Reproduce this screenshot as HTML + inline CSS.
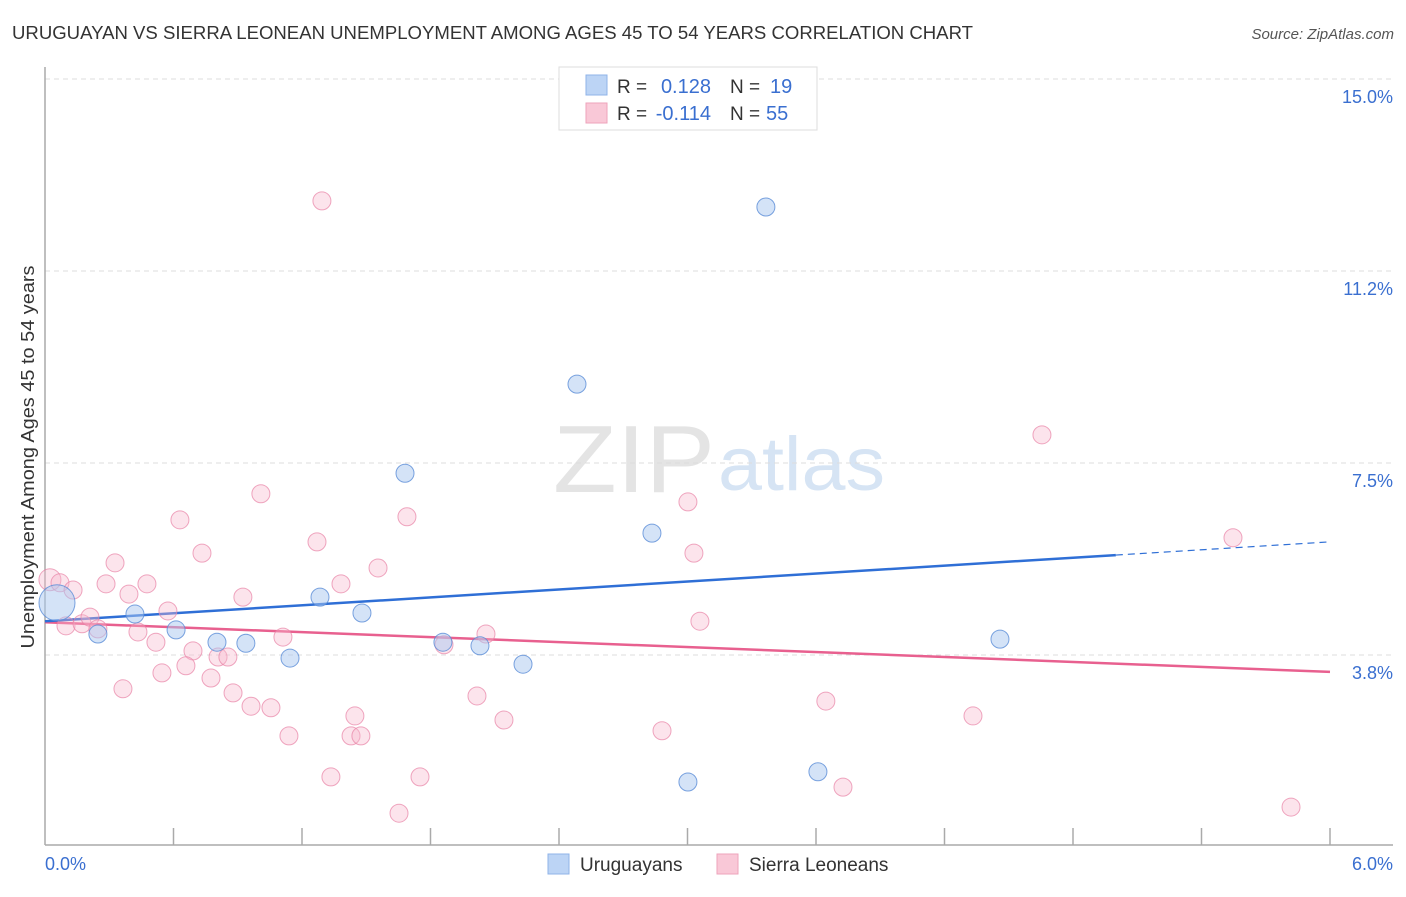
<!DOCTYPE html>
<html><head><meta charset="utf-8"><style>
body{margin:0;background:#fff;font-family:"Liberation Sans",sans-serif;}
svg text{font-family:"Liberation Sans",sans-serif;}
</style></head><body>
<svg id="chart" width="1406" height="892" xmlns="http://www.w3.org/2000/svg">
<text x="12" y="39" font-size="18" fill="#333" textLength="961" lengthAdjust="spacingAndGlyphs">URUGUAYAN VS SIERRA LEONEAN UNEMPLOYMENT AMONG AGES 45 TO 54 YEARS CORRELATION CHART</text>
<text x="1394" y="39" font-size="15" fill="#555" text-anchor="end" font-style="italic">Source: ZipAtlas.com</text>
<g>
<text x="553" y="492" font-size="96" fill="#e4e4e4" font-family="Liberation Serif,serif" textLength="162" lengthAdjust="spacingAndGlyphs">ZIP</text>
<text x="718" y="490" font-size="76" fill="#d6e4f4" textLength="167" lengthAdjust="spacingAndGlyphs">atlas</text>
</g>
<g id="grid"></g>
<g id="axes"></g>
<g id="lines"></g>
<g id="points"></g>
<text transform="translate(34,457) rotate(-90)" font-size="18" fill="#333" text-anchor="middle" textLength="383" lengthAdjust="spacingAndGlyphs">Unemployment Among Ages 45 to 54 years</text>
<text x="45" y="870" font-size="18" fill="#3a6fd0">0.0%</text>
<text x="1393" y="870" font-size="18" fill="#3a6fd0" text-anchor="end">6.0%</text>
<g>
<rect x="559" y="67" width="258" height="63" fill="#fff" stroke="#ddd"/>
<rect x="586" y="75" width="21" height="20" fill="#bcd4f5" stroke="#8fb3e8"/>
<rect x="586" y="103" width="21" height="20" fill="#f9c8d7" stroke="#eea3bb"/>
<text x="617" y="93" font-size="19" fill="#333">R =</text>
<text x="711" y="93" font-size="20" fill="#3a6fd0" text-anchor="end">0.128</text>
<text x="730" y="93" font-size="19" fill="#333">N =</text>
<text x="770" y="93" font-size="20" fill="#3a6fd0">19</text>
<text x="617" y="120" font-size="19" fill="#333">R =</text>
<text x="711" y="120" font-size="20" fill="#3a6fd0" text-anchor="end">-0.114</text>
<text x="730" y="120" font-size="19" fill="#333">N =</text>
<text x="766" y="120" font-size="20" fill="#3a6fd0">55</text>
</g>
<g>
<rect x="548" y="854" width="21" height="20" fill="#bcd4f5" stroke="#8fb3e8"/>
<text x="580" y="871" font-size="19" fill="#333">Uruguayans</text>
</g>
<g>
<rect x="717" y="854" width="21" height="20" fill="#f9c8d7" stroke="#eea3bb"/>
<text x="749" y="871" font-size="19" fill="#333">Sierra Leoneans</text>
</g>
</svg>
<script>
const yTicks=[15.0,11.25,7.5,3.75];
const yTickLabels=["15.0%","11.2%","7.5%","3.8%"];
const blueX=[0.056,0.247,0.420,0.612,0.803,0.938,1.144,1.284,1.480,1.681,1.858,2.031,2.232,2.484,2.834,3.002,3.366,3.609,4.459];
const blueY=[4.77,4.16,4.55,4.24,4.00,3.98,3.69,4.88,4.57,7.30,4.00,3.93,3.57,9.04,6.13,1.27,12.50,1.47,4.06];
const pinkX=[0.327,0.285,0.392,0.476,0.733,0.924,1.382,1.555,1.270,0.023,0.070,0.131,0.098,0.173,0.210,0.247,0.434,0.518,0.574,0.691,0.658,0.546,0.364,0.808,0.854,0.775,0.878,0.962,1.055,1.111,1.139,1.335,1.447,1.429,1.475,1.653,1.751,0.630,1.008,1.293,1.690,1.863,2.017,2.059,2.143,2.881,3.002,3.030,3.058,3.646,3.726,4.333,4.655,5.547,5.818];
const pinkY=[5.55,5.14,4.94,5.14,5.74,4.88,5.14,5.45,5.96,5.22,5.16,5.02,4.32,4.36,4.49,4.26,4.20,4.00,4.61,3.83,3.54,3.40,3.09,3.71,3.71,3.30,3.01,2.75,2.72,4.10,2.17,1.37,2.56,2.17,2.17,0.66,1.37,6.39,6.90,12.62,6.45,3.95,2.95,4.16,2.48,2.27,6.74,5.74,4.41,2.85,1.17,2.56,8.05,6.04,0.78];
const blueTrend=[4.41,5.96];
const pinkTrend=[4.39,3.42];
const NS="http://www.w3.org/2000/svg";
const X0=45,X1=1330,Y15=79,PXPER=51.2;
function sx(v){return X0+(v/6)*(X1-X0);}
function sy(v){return Y15+(15-v)*PXPER;}
function mk(tag,attrs,parent){const e=document.createElementNS(NS,tag);for(const k in attrs)e.setAttribute(k,attrs[k]);document.getElementById(parent).appendChild(e);return e;}
yTicks.forEach((t,i)=>{
 const l=mk('line',{x1:45,x2:1393,y1:sy(t),y2:sy(t),stroke:'#ddd','stroke-dasharray':'5,4'},'grid');
 
 
 const tx=mk('text',{x:1393,y:sy(t)+24,'font-size':18,fill:'#3a6fd0','text-anchor':'end'},'grid');
 tx.textContent=yTickLabels[i];
 
 
});
let ax=mk('line',{x1:45,x2:45,y1:67,y2:845,stroke:'#aaa','stroke-width':1.5},'axes');


ax=mk('line',{x1:45,x2:1393,y1:845,y2:845,stroke:'#aaa','stroke-width':1.5},'axes');


for(let k=1;k<=10;k++){
 const t=mk('line',{x1:sx(k*0.6),x2:sx(k*0.6),y1:828,y2:845,stroke:'#aaa','stroke-width':1.5},'axes');
 
 
}
function trend(vals,color,solidEnd,name){
 const f=x=>vals[0]+(vals[1]-vals[0])*x/6;
 const a=mk('line',{x1:sx(0),y1:sy(f(0)),x2:sx(solidEnd),y2:sy(f(solidEnd)),stroke:color,'stroke-width':2.5},'lines');
 
 
 if(solidEnd<6){
  const b=mk('line',{x1:sx(solidEnd),y1:sy(f(solidEnd)),x2:sx(6),y2:sy(f(6)),stroke:color,'stroke-width':1.2,'stroke-dasharray':'7,5'},'lines');
  
  
 }
}
pinkX.forEach((x,i)=>{
 const c=mk('circle',{cx:sx(x),cy:sy(pinkY[i]),r:i===9?11:9,fill:'rgba(248,185,205,0.38)',stroke:'rgba(232,130,165,0.7)','stroke-width':1},'points');
 
 
});
blueX.forEach((x,i)=>{
 const c=mk('circle',{cx:sx(x),cy:sy(blueY[i]),r:i===0?18:9,fill:'rgba(170,200,240,0.5)',stroke:'rgba(90,140,215,0.8)','stroke-width':1},'points');
 
 
});
trend(pinkTrend,'#e8608f',6,'sierra-leonean-trendline');
trend(blueTrend,'#2f6fd6',5.0,'uruguayan-trendline');
</script>
</body></html>
